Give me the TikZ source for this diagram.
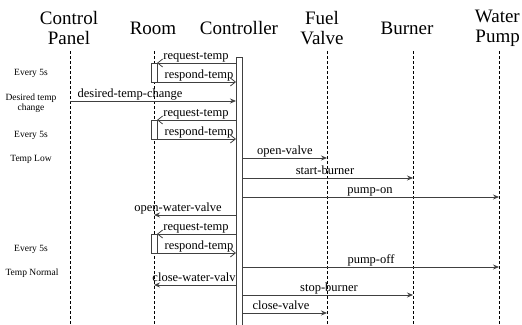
\documentclass[tikz,border=0pt]{standalone}
\usepackage{fontspec}
\setmainfont{Liberation Serif}
\usetikzlibrary{arrows.meta,calc}

\tikzset{
	head/.style={font=\fontsize{19}{20}\selectfont, align=center, inner sep=0pt},
	note/.style={font=\fontsize{9.5}{10.5}\selectfont, align=center, inner sep=0pt},
	lbl/.style={font=\fontsize{12.5}{13}\selectfont, inner sep=0pt, anchor=base},
	life/.style={dash pattern=on 3pt off 2pt, line width=0.6pt},
	actbox/.style={draw=black!75, line width=0.8pt},
	call/.style={draw=black!75, line width=0.8pt, -{Straight Barb[length=5pt,width=8pt]}},
	sig/.style={draw=black!75, line width=0.8pt, -{Stealth[length=6pt,width=5pt]}},
}

\begin{document}
\begin{tikzpicture}[x=1pt, y=-1pt]

	\useasboundingbox (0,0) rectangle (522,324);

	\def\ltop{51} % top of the lifelines
	\def\lbot{324} % bottom of the lifelines
	\def\boxh{19} % height of the room boxes

	% lifeline positions
	\foreach \n/\x in {cp/70, room/154, roomR/157, ctrlL/236, ctrlR/242, fuel/327, burner/413, pump/499}
		\coordinate (\n) at (\x,0);

	% Headers
	\node[head] (hcp) at (69,28) {Control\\Panel};
	\node[head] (hroom) at (153,28) {Room};
	\node[head] (hctrl) at (239,28) {Controller};
	\node[head] (hfuel) at (322,28) {Fuel\\Valve};
	\node[head] (hburner) at (407,28) {Burner};
	\node[head, align=right, anchor=east] (hpump) at (520,28) {Water\\Pump};

	% Lifelines
	\foreach \n in {cp,room,fuel,burner,pump}
		\draw[life] (\n |- 0,\ltop) -- (\n |- 0,\lbot);

	% Controller bar
	\draw[actbox] (ctrlL |- 0,57) -- (ctrlL |- 0,330);
	\draw[actbox] (ctrlL |- 0,57) -- (ctrlR |- 0,57) -- (ctrlR |- 0,330);

	% Room boxes
	\foreach \y in {63,120,234}
		\draw[actbox, fill=white] (151,\y) rectangle (157,\y+\boxh);

	% Notes on the left
	\node[note] (n1) at (31,73) {Every 5s};
	\node[note] (n2) at (31,103) {Desired temp\\change};
	\node[note] (n3) at (31,135) {Every 5s};
	\node[note] (n4) at (31,159) {Temp Low};
	\node[note] (n5) at (31,249) {Every 5s};
	\node[note] (n6) at (32,273) {Temp Normal};

	% request / respond between controller and room
	\foreach \y/\a/\b/\t/\lx [count=\k] in {
		63/ctrlL/roomR/request-temp/196,
		82/roomR/ctrlL/respond-temp/199,
		120/ctrlL/roomR/request-temp/196,
		139/roomR/ctrlL/respond-temp/199,
		234/ctrlL/roomR/request-temp/196,
		253/roomR/ctrlL/respond-temp/199}{
		\draw[call] (\a |- 0,\y) -- (\b |- 0,\y);
		\node[lbl] (c\k) at (\lx,\y-3.5) {\t};
	}

	% signals
	\foreach \y/\a/\b/\t/\lx [count=\k] in {
		101/cp/ctrlL/desired-temp-change/130,
		158/ctrlR/fuel/open-valve/285,
		178/ctrlR/burner/start-burner/325,
		197/ctrlR/pump/pump-on/370,
		215/ctrlL/room/open-water-valve/178,
		267/ctrlR/pump/pump-off/371,
		285/ctrlL/room/close-water-valv/194,
		295/ctrlR/burner/stop-burner/329,
		313/ctrlR/fuel/close-valve/281}{
		\draw[sig] (\a |- 0,\y) -- (\b |- 0,\y);
		\node[lbl] (s\k) at (\lx,\y-3.5) {\t};
	}

\end{tikzpicture}
\end{document}
